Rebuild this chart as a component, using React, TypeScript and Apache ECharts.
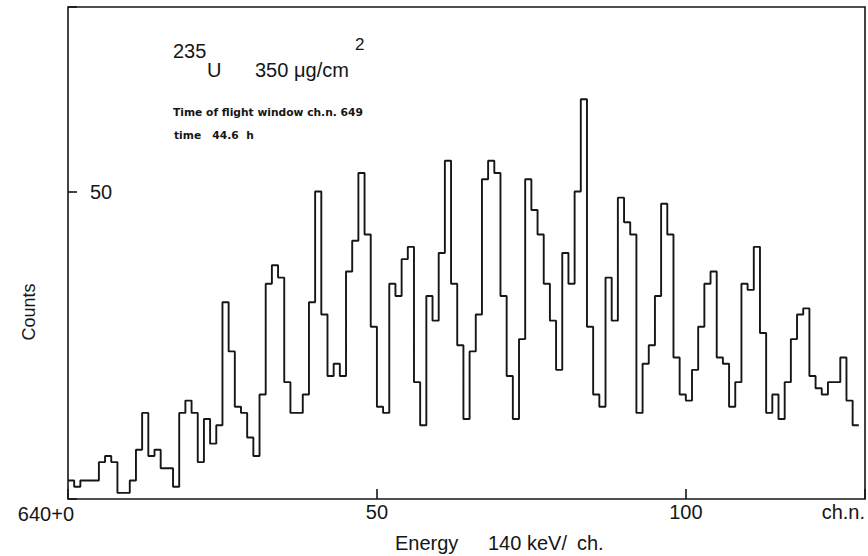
import React, { useEffect, useRef } from "react";
import * as echarts from "echarts";

// Counts per channel, channel numbers relative to 640
const counts = [
  3, 2, 3, 3, 3, 6, 7, 6, 1, 1,
  3, 8, 14, 7, 8, 5, 5, 2, 14, 16,
  14, 6, 13, 9, 12, 32, 24, 15, 14, 10,
  7, 17, 35, 38, 36, 19, 14, 14, 17, 32,
  50, 30, 20, 22, 20, 37, 42, 53, 43, 28,
  15, 14, 35, 33, 39, 41, 19, 12, 33, 29,
  40, 55, 35, 25, 13, 24, 30, 52, 55, 53,
  33, 20, 13, 26, 52, 47, 43, 35, 29, 21,
  40, 35, 50, 65, 28, 17, 15, 36, 29, 49,
  45, 43, 14, 22, 25, 33, 48, 43, 23, 17,
  16, 21, 28, 35, 37, 23, 22, 15, 19, 35,
  34, 41, 27, 14, 17, 13, 19, 26, 30, 31,
  20, 18, 17, 19, 19, 23, 16, 12,
];

const xTickValues = [0, 50, 100];
const xTickLabels = ["640+0", "50", "100"];
const xEndLabel = "ch.n.";
const yTickValues = [50];
const yTickLabels = ["50"];

const FONT = "'Liberation Sans', Arial, sans-serif";
const SMALL_FONT = "'DejaVu Sans', 'Liberation Sans', sans-serif";
const INK = "#161616";

export default function App() {
  const ref = useRef<HTMLDivElement>(null);

  useEffect(() => {
    if (!ref.current) return;
    const chart = echarts.init(ref.current, null, { renderer: "svg" });

    // step histogram: each channel is a flat segment from i to i+1
    const stepData: number[][] = counts.map((c, i) => [i, c]);
    stepData.push([counts.length, counts[counts.length - 1]]);

    const txt = (
      text: string,
      x: number,
      y: number,
      size: number,
      extra: Record<string, unknown> = {}
    ) => ({
      type: "text",
      x,
      y,
      silent: true,
      ...extra,
      style: {
        text,
        fill: INK,
        fontFamily: FONT,
        fontSize: size,
        align: "left",
        textAlign: "left",
        verticalAlign: "middle",
        textVerticalAlign: "middle",
        ...((extra.style as object) || {}),
      },
    });

    const small = { style: { fontWeight: "bold", fontFamily: SMALL_FONT } };

    chart.setOption({
      animation: false,
      backgroundColor: "#ffffff",
      grid: {
        left: 68,
        right: 3,
        top: 7,
        bottom: 57,
        show: true,
        borderColor: INK,
        borderWidth: 1.6,
      },
      xAxis: {
        type: "value",
        min: 0,
        max: 129,
        interval: 50,
        splitLine: { show: false },
        axisLine: { show: false },
        axisTick: {
          show: true,
          inside: true,
          length: 10,
          lineStyle: { color: INK, width: 1.6 },
        },
        axisLabel: {
          color: INK,
          fontFamily: FONT,
          fontSize: 20,
          margin: 3,
          alignMaxLabel: "right",
          formatter: (v: number) => {
            if (v === 0) return "";
            const k = xTickValues.indexOf(v);
            if (k >= 0) return xTickLabels[k];
            return xEndLabel;
          },
        },
      },
      yAxis: {
        type: "value",
        min: 0,
        max: 80,
        interval: 50,
        splitLine: { show: false },
        axisLine: { show: false },
        axisTick: {
          show: true,
          inside: true,
          length: 9,
          lineStyle: { color: INK, width: 1.6 },
        },
        axisLabel: {
          inside: true,
          margin: 22,
          color: INK,
          fontFamily: FONT,
          fontSize: 20,
          formatter: (v: number) => {
            const k = yTickValues.indexOf(v);
            return k >= 0 ? yTickLabels[k] : "";
          },
        },
      },
      series: [
        {
          type: "line",
          step: "end",
          data: stepData,
          symbol: "none",
          clip: true,
          lineStyle: { color: INK, width: 1.9 },
        },
      ],
      graphic: [
        txt(xTickLabels[0], 74, 514, 20, { style: { align: "right", textAlign: "right" } }),
        txt("Energy", 395, 543, 20),
        txt("140 keV/", 488, 543, 20),
        txt("ch.", 577, 543, 20),
        txt("Counts", 29, 312, 18, {
          rotation: Math.PI / 2,
          style: { align: "center", textAlign: "center" },
        }),
        txt("235", 173, 51, 20),
        txt("U", 207, 70, 20),
        txt("350", 255, 70, 20),
        txt("μg/cm", 294, 70, 20),
        txt("2", 355, 44, 17),
        txt("Time of flight window ch.n. 649", 173, 112, 10.7, small),
        txt("time   44.6  h", 174, 135, 10.7, small),
      ],
    });

    return () => chart.dispose();
  }, []);

  return (
    <div
      ref={ref}
      style={{
        position: "fixed",
        left: 0,
        top: 0,
        width: 868,
        height: 556,
        background: "#ffffff",
      }}
    />
  );
}
